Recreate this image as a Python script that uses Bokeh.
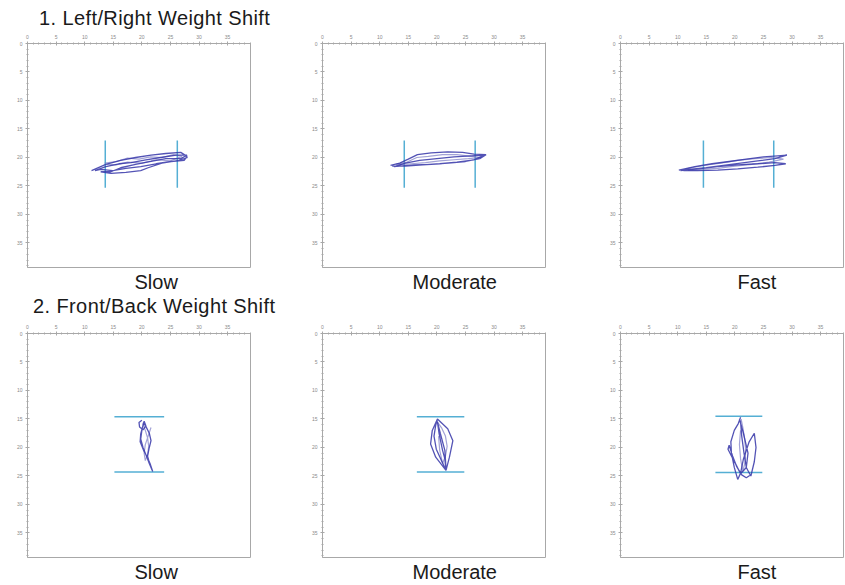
from bokeh.plotting import figure
from bokeh.layouts import column, row
from bokeh.models import Div, Range1d, FixedTicker
from bokeh.embed import file_html
from bokeh.resources import INLINE

section_titles = ["1. Left/Right Weight Shift", "2. Front/Back Weight Shift"]
speed_labels = ["Slow", "Moderate", "Fast"]
major_ticks = [0, 5, 10, 15, 20, 25, 30, 35]
minor_ticks = list(range(0, 40))

# ---- Left/Right weight shift traces (x, y in plate units) ----
lr_slow_x = [11.2, 13.7, 16.3, 18.9, 21.6, 24.2, 26.8, 27.9, 27.4, 25.1, 22.5, 19.8, 17.2, 14.9, 12.8, 11.8,
             13.7, 16.0, 18.1, 20.7, 23.3, 26.0, 27.9, 26.8, 24.2, 21.6, 18.9, 16.3, 14.6, 12.8, 14.6, 17.2,
             19.8, 21.1, 23.5, 26.5, 28.0]
lr_slow_y = [22.3, 21.2, 20.5, 20.0, 19.6, 19.3, 19.1, 19.8, 20.5, 20.7, 21.1, 21.6, 21.9, 22.3, 22.1, 22.3,
             21.6, 21.1, 20.9, 20.4, 20.0, 19.6, 19.6, 20.2, 20.2, 20.7, 21.2, 21.8, 22.5, 22.5, 22.8, 22.6,
             22.3, 21.8, 21.0, 20.5, 20.0]
lr_slow2_x = [13.5, 15.5, 17.5, 19.5, 21.5, 23.5, 25.5, 27.0, 25.0, 22.5, 20.0, 17.5, 15.5, 13.8]
lr_slow2_y = [21.0, 20.7, 20.1, 20.3, 19.9, 20.0, 19.5, 19.8, 20.6, 20.4, 21.0, 20.8, 21.3, 21.2]
lr_mod_x = [11.9, 13.5, 15.0, 16.6, 19.0, 21.9, 24.5, 26.5, 28.6, 27.5, 25.0, 22.0, 19.0, 16.0, 13.5, 12.5,
            14.5, 17.0, 20.0, 23.0, 26.0, 28.2, 26.5, 23.5, 20.5, 17.5, 14.5, 12.2]
lr_mod_y = [21.4, 21.0, 20.3, 19.5, 19.2, 19.0, 19.1, 19.4, 19.5, 20.2, 20.7, 21.0, 21.2, 21.3, 21.5, 21.6,
            21.0, 20.5, 20.2, 19.9, 19.7, 19.6, 20.4, 20.8, 21.1, 21.3, 21.5, 21.5]
lr_mod2_x = [12.8, 14.8, 16.5, 18.5, 21.0, 23.5, 26.0, 27.8, 25.5, 23.0, 20.5, 18.0, 15.5, 13.2]
lr_mod2_y = [21.2, 20.8, 20.0, 19.8, 19.5, 19.5, 19.8, 20.0, 20.2, 20.4, 20.6, 20.9, 21.1, 21.3]
lr_fast_x = [10.2, 13.0, 16.0, 19.0, 22.0, 25.0, 27.5, 29.1, 27.0, 24.0, 21.0, 18.0, 15.0, 12.0, 10.5, 13.5,
             17.0, 20.5, 24.0, 27.0, 28.9, 27.0, 24.0, 20.5, 17.0, 13.5, 11.0]
lr_fast_y = [22.2, 21.6, 21.1, 20.7, 20.3, 19.9, 19.7, 19.6, 20.2, 20.6, 21.0, 21.4, 21.8, 22.1, 22.3, 22.0,
             21.6, 21.3, 21.1, 20.9, 21.1, 21.4, 21.7, 22.0, 22.2, 22.3, 22.3]
lr_fast2_x = [11.5, 14.5, 17.5, 20.5, 23.5, 26.5, 28.5, 26.0, 23.0, 20.0, 17.0, 14.0, 11.8]
lr_fast2_y = [22.0, 21.4, 21.0, 20.5, 20.2, 20.0, 20.3, 20.8, 21.2, 21.5, 21.9, 22.1, 22.2]

# ---- Front/Back weight shift traces ----
fb_slow_x = [20.0, 19.5, 19.6, 20.2, 20.7, 20.4, 20.1, 19.8, 19.7, 20.3, 21.0, 21.5, 21.9, 21.4, 21.0, 21.3,
             21.6, 21.3, 20.7, 20.3, 20.0, 19.8, 20.2, 20.8, 21.3, 21.8]
fb_slow_y = [15.2, 15.6, 16.4, 16.9, 16.2, 15.4, 16.5, 17.6, 19.0, 20.5, 21.8, 23.0, 24.2, 23.0, 21.5, 20.0,
             18.8, 17.5, 16.3, 15.6, 17.0, 18.5, 20.0, 21.5, 22.8, 24.0]
fb_slow2_x = [20.2, 20.6, 21.0, 21.2, 21.0, 20.6, 20.4, 20.6, 21.1, 21.6]
fb_slow2_y = [15.8, 17.0, 18.3, 19.8, 21.2, 22.3, 21.0, 19.5, 18.0, 16.5]
fb_mod_x = [20.1, 19.2, 18.9, 19.8, 21.6, 22.2, 22.8, 21.9, 20.1, 19.8, 19.5, 19.9, 20.9, 21.6, 21.4, 21.0,
            20.4, 20.1, 20.6, 21.4, 21.6]
fb_mod_y = [15.0, 17.0, 19.4, 21.7, 24.0, 21.7, 18.8, 16.7, 15.0, 16.1, 18.0, 20.3, 22.5, 24.0, 22.0, 20.5,
            17.6, 15.5, 17.5, 20.5, 23.8]
fb_mod2_x = [20.0, 20.8, 21.5, 21.8, 21.5, 21.0, 20.5, 20.3]
fb_mod2_y = [15.4, 16.5, 18.0, 19.8, 21.5, 22.8, 20.5, 18.0]
fb_fast_x = [21.0, 20.6, 19.9, 19.3, 19.4, 19.9, 20.5, 21.0, 21.5, 22.5, 23.4, 23.7, 23.4, 22.8, 22.0, 21.6,
             21.2, 21.0, 20.8, 21.5, 22.3, 22.0, 21.0, 20.2, 19.4, 18.8, 19.0, 19.6, 20.3, 21.2, 22.0, 22.6]
fb_fast_y = [14.7, 15.8, 17.0, 19.0, 21.0, 23.5, 25.6, 24.5, 22.0, 19.0, 17.5, 20.0, 22.5, 25.0, 23.5, 21.0,
             18.0, 15.5, 15.0, 17.5, 21.0, 23.5, 24.6, 23.0, 21.5, 20.3, 19.6, 21.5, 23.3, 24.8, 25.3, 24.9]
fb_fast2_x = [21.1, 21.4, 21.7, 21.9, 21.8, 21.4, 21.0, 20.8, 21.0]
fb_fast2_y = [15.0, 16.5, 18.5, 20.5, 22.5, 24.2, 22.0, 19.5, 17.0]

# ---- target lines ----
lr_target_x = [[13.6, 26.2], [14.3, 26.7], [14.5, 26.8]]
lr_target_y = [17.0, 25.3]
fb_target_y = [[14.6, 24.3], [14.6, 24.3], [14.5, 24.4]]
fb_target_x = [[15.2, 23.9], [16.5, 24.8], [16.6, 24.8]]

lr_traces = [(lr_slow_x, lr_slow_y, lr_slow2_x, lr_slow2_y), (lr_mod_x, lr_mod_y, lr_mod2_x, lr_mod2_y),
             (lr_fast_x, lr_fast_y, lr_fast2_x, lr_fast2_y)]
fb_traces = [(fb_slow_x, fb_slow_y, fb_slow2_x, fb_slow2_y), (fb_mod_x, fb_mod_y, fb_mod2_x, fb_mod2_y),
             (fb_fast_x, fb_fast_y, fb_fast2_x, fb_fast2_y)]

TRACE = "#3535a8"
TRACE_LIGHT = "#7a7ac4"
TARGET = "#55afd4"
AX = "#a8a8a8"
FONT = "Liberation Sans"

# label placement (left-aligned offsets so the label sits where the reference puts it)
label_offsets = [107, 90, 117]


def make_panel(label, left_border, right_border, bottom_border, offset):
    p = figure(x_range=Range1d(0, 39), y_range=Range1d(39.3, 0), x_axis_location="above",
               frame_width=223, frame_height=224, min_border_left=left_border, min_border_right=right_border,
               min_border_top=13, min_border_bottom=bottom_border, toolbar_location=None, output_backend="svg",
               title=label, title_location="below", margin=0)
    p.title.align = "left"
    p.title.offset = offset
    p.title.text_font = FONT
    p.title.text_font_style = "normal"
    p.title.text_font_size = "20px"
    p.title.text_color = "#1a1a1a"
    p.title.standoff = 3
    p.grid.visible = False
    p.outline_line_color = AX
    for ax in (p.xaxis[0], p.yaxis[0]):
        ax.ticker = FixedTicker(ticks=major_ticks, minor_ticks=minor_ticks)
        ax.axis_line_color = AX
        ax.major_tick_line_color = AX
        ax.minor_tick_line_color = AX
        ax.major_tick_in = 2
        ax.major_tick_out = 2
        ax.minor_tick_in = 1
        ax.minor_tick_out = 1
        ax.major_label_text_font_size = "5px"
        ax.major_label_text_color = "#8a8a8a"
        ax.major_label_standoff = 3
        ax.major_label_text_font = FONT
    return p


lefts = [27, 19, 19]
rights = [53, 56, 2]


def draw_trace(p, t):
    p.line(t[2], t[3], line_color=TRACE_LIGHT, line_width=1.2, line_alpha=0.7)
    p.line(t[0], t[1], line_color=TRACE, line_width=1.3, line_alpha=0.85)


row1 = []
for i in range(3):
    p = make_panel(speed_labels[i], lefts[i], rights[i], 30, label_offsets[i])
    for xv in lr_target_x[i]:
        p.line([xv, xv], lr_target_y, line_color=TARGET, line_width=1.5)
    draw_trace(p, lr_traces[i])
    row1.append(p)

row2 = []
for i in range(3):
    p = make_panel(speed_labels[i], lefts[i], rights[i], 27, label_offsets[i])
    for yv in fb_target_y[i]:
        p.line(fb_target_x[i], [yv, yv], line_color=TARGET, line_width=1.5)
    draw_trace(p, fb_traces[i])
    row2.append(p)


def section(text, height, indent, line_height):
    return Div(text=('<div style="font-family:\'Liberation Sans\',Arial,sans-serif;font-size:20px;'
                     'letter-spacing:0.4px;color:#1a1a1a;white-space:nowrap;margin-left:%dpx;'
                     'line-height:%dpx;">%s</div>' % (indent, line_height, text)),
               width=400, height=height, margin=0)


layout = column(section(section_titles[0], 30, 39, 36), row(*row1, margin=0),
                section(section_titles[1], 23, 33, 18), row(*row2, margin=0), margin=0)

open("out.html", "w").write(file_html(layout, INLINE))
